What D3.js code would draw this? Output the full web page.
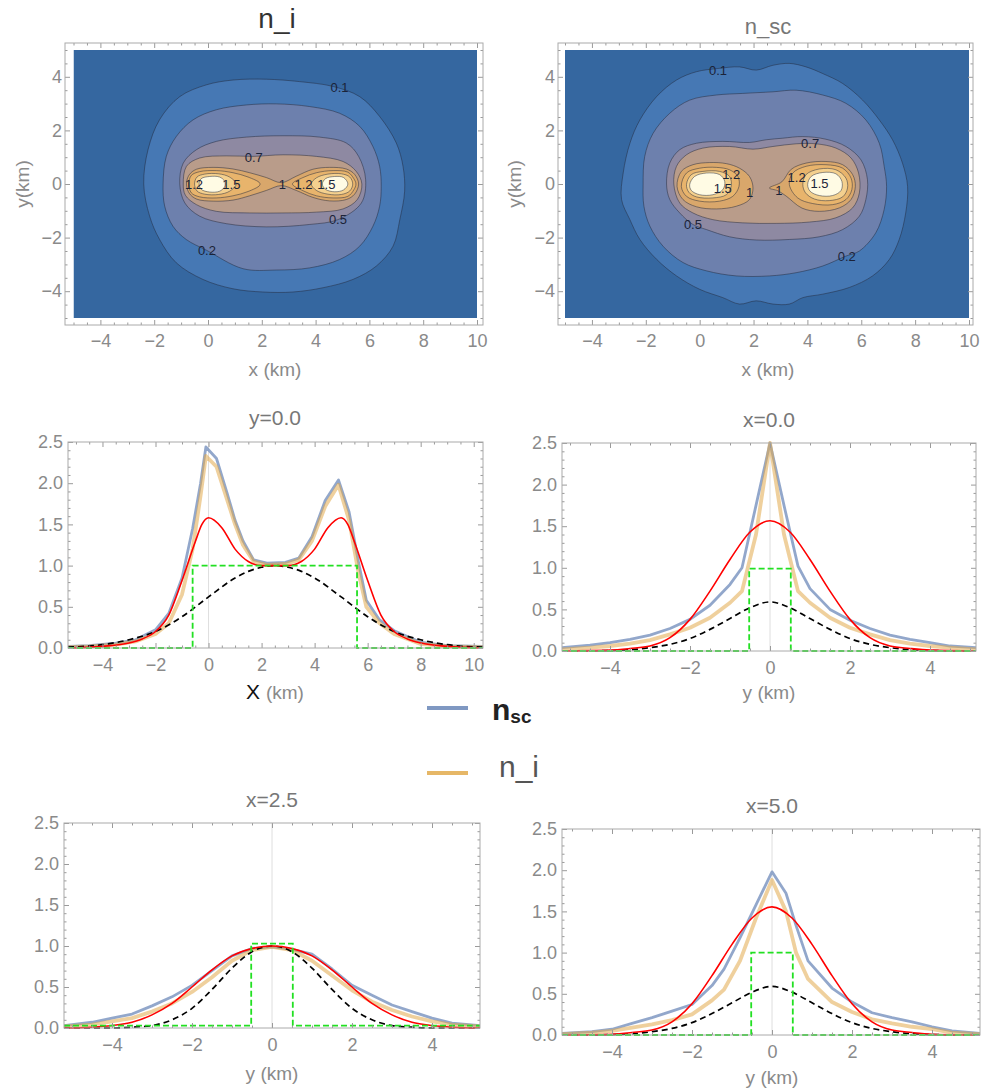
<!DOCTYPE html>
<html><head><meta charset="utf-8">
<script src="https://cdn.jsdelivr.net/npm/d3@7"></script>
<style>
body{margin:0;background:#fff}
svg{display:block}
text{font-family:"Liberation Sans",Arial,sans-serif}
</style>
</head><body>
<svg id="c" width="981" height="1092"></svg>
<script>
// ---------------- DATA ----------------
const contourLevels = [0.1, 0.2, 0.5, 0.7, 1.0, 1.2, 1.5, 2.0];

// n_i contour lines
const ni_l01 = [[-2.39,0],[-2.23,1.28],[-1.80,2.40],[-1.05,3.26],[-0.06,3.70],[0.93,3.88],[2.17,3.91],[3.41,3.82],[4.65,3.64],[5.64,3.26],[6.38,2.52],[7.0,1.53],[7.25,0.66],[7.31,-0.27],[7.13,-1.33],[6.88,-2.32],[6.26,-3.06],[5.39,-3.56],[4.28,-3.87],[3.16,-4.03],[2.04,-4.03],[0.93,-3.91],[-0.19,-3.56],[-1.18,-2.94],[-1.80,-2.07],[-2.17,-1.20]];
const ni_l02 = [[-1.67,0],[-1.55,1.03],[-1.18,1.77],[-0.56,2.39],[0.31,2.77],[1.43,2.95],[2.54,2.99],[3.78,2.89],[4.89,2.64],[5.64,2.15],[6.13,1.40],[6.38,0.66],[6.44,-0.09],[6.38,-0.83],[6.13,-1.58],[5.64,-2.32],[4.89,-2.82],[3.78,-3.13],[2.54,-3.21],[1.30,-3.16],[-0.06,-2.47],[-0.81,-2.07],[-1.30,-1.58],[-1.61,-0.83]];
const ni_l05 = [[-1.05,0],[-0.92,0.78],[-0.43,1.28],[0.31,1.59],[1.43,1.75],[2.79,1.80],[4.15,1.75],[5.14,1.53],[5.6,1.03],[5.86,0.16],[5.7,-0.71],[4.83,-1.33],[3.78,-1.51],[2.17,-1.60],[0.68,-1.48],[-0.31,-1.20],[-0.86,-0.71]];
const ni_l07 = [[-0.92,0],[-0.8,0.66],[-0.31,0.97],[0.68,1.05],[1.67,1.03],[2.79,1.09],[4.03,1.03],[5.02,0.84],[5.51,0.47],[5.72,0],[5.55,-0.58],[5.02,-0.93],[4.03,-1.05],[2.79,-1.08],[1.55,-1.08],[0.31,-1.02],[-0.43,-0.77],[-0.84,-0.42]];
const ni_l10 = [[2.73,0.05],[2.17,0.24],[1.55,0.42],[0.93,0.56],[0.19,0.62],[-0.43,0.55],[-0.7,0.34],[-0.8,0],[-0.7,-0.34],[-0.43,-0.56],[0.19,-0.64],[0.93,-0.6],[1.55,-0.44],[2.17,-0.24],[2.73,-0.06],[3.28,-0.24],[3.9,-0.5],[4.52,-0.63],[5.14,-0.58],[5.45,-0.38],[5.6,0],[5.45,0.36],[5.14,0.56],[4.52,0.62],[3.9,0.55],[3.28,0.29]];
const ni_l12a = [[-0.71,0],[-0.62,0.32],[-0.31,0.46],[0.31,0.5],[0.93,0.42],[1.49,0.26],[1.92,0.04],[1.92,-0.05],[1.49,-0.28],[0.93,-0.44],[0.31,-0.52],[-0.31,-0.48],[-0.62,-0.33]];
const ni_l12b = [[3.14,0],[3.53,0.24],[4.03,0.42],[4.65,0.5],[5.2,0.44],[5.42,0.2],[5.5,0],[5.42,-0.22],[5.2,-0.46],[4.65,-0.52],[4.03,-0.44],[3.53,-0.25]];
const ni_l15a = [[-0.5,0],[-0.41,0.26],[-0.12,0.37],[0.4,0.38],[0.8,0.26],[1.05,0],[0.8,-0.27],[0.4,-0.39],[-0.12,-0.38],[-0.41,-0.26]];
const ni_l15b = [[3.84,0],[4.03,0.23],[4.46,0.37],[4.96,0.38],[5.27,0.26],[5.38,0],[5.27,-0.26],[4.96,-0.39],[4.46,-0.38],[4.03,-0.24]];
const ni_l20a = [[-0.33,0],[-0.25,0.2],[0.06,0.28],[0.43,0.26],[0.62,0.1],[0.62,-0.1],[0.43,-0.27],[0.06,-0.3],[-0.25,-0.2]];
const ni_l20b = [[4.25,0],[4.37,0.2],[4.71,0.28],[5.04,0.24],[5.2,0],[5.04,-0.22],[4.71,-0.29],[4.37,-0.2]];
const ni_labels = [["0.1",4.89,3.61],["0.7",1.70,1.0],["1.2",-0.52,-0.03],["1.5",0.87,-0.03],["1",2.76,0],["1.2",3.55,-0.03],["1.5",4.4,-0.03],["0.5",4.83,-1.33],["0.2",-0.04,-2.47]];

// n_sc contour lines
const nsc_l01 = [[-2.90,-0.58],[-2.84,0.41],[-2.59,1.52],[-2.22,2.39],[-1.60,3.26],[-0.86,3.88],[-0.12,4.19],[0.68,4.31],[1.48,4.37],[2.10,4.25],[2.72,4.43],[3.33,4.50],[3.95,4.37],[4.57,4.12],[5.31,3.75],[6.05,3.13],[6.67,2.39],[7.16,1.65],[7.53,0.78],[7.72,-0.09],[7.65,-1.08],[7.41,-2.07],[7.04,-2.82],[6.42,-3.43],[5.56,-3.86],[4.57,-4.11],[3.83,-4.24],[3.33,-4.48],[2.72,-4.48],[2.10,-4.36],[1.48,-4.48],[0.86,-4.24],[0.0,-3.93],[-0.86,-3.43],[-1.60,-2.81],[-2.22,-2.07],[-2.59,-1.33]];
const nsc_l02 = [[-2.10,0],[-2.04,1.03],[-1.73,1.89],[-1.11,2.64],[-0.37,3.13],[0.62,3.32],[1.60,3.38],[2.72,3.44],[3.58,3.50],[4.57,3.32],[5.43,3.01],[6.17,2.39],[6.67,1.52],[6.85,0.66],[6.94,-0.09],[6.85,-0.95],[6.54,-1.82],[5.93,-2.50],[5.43,-2.69],[4.57,-3.06],[3.58,-3.31],[2.59,-3.43],[1.36,-3.43],[0.25,-3.24],[-0.62,-2.93],[-1.36,-2.32],[-1.85,-1.57],[-2.07,-0.83]];
const nsc_l05 = [[-1.23,0],[-1.11,0.78],[-0.74,1.28],[-0.12,1.52],[0.86,1.59],[1.85,1.55],[2.47,1.65],[3.09,1.71],[3.83,1.77],[4.69,1.67],[5.43,1.40],[5.99,0.90],[6.23,0.16],[6.17,-0.58],[5.93,-1.20],[5.31,-1.70],[4.44,-1.97],[3.33,-2.07],[2.10,-2.09],[1.11,-1.97],[0.25,-1.70],[-0.25,-1.51],[-0.74,-1.08],[-1.11,-0.58]];
const nsc_l07 = [[-0.96,0],[-0.86,0.66],[-0.49,1.09],[0.12,1.34],[1.11,1.40],[1.98,1.30],[2.72,1.40],[3.58,1.50],[4.32,1.50],[5.06,1.34],[5.62,0.97],[5.90,0.41],[5.93,-0.33],[5.68,-0.89],[5.06,-1.26],[4.07,-1.42],[2.84,-1.47],[1.60,-1.45],[0.49,-1.33],[-0.25,-1.08],[-0.74,-0.71]];
const nsc_l10a = [[-0.84,-0.09],[-0.68,0.47],[-0.25,0.72],[0.37,0.80],[0.99,0.76],[1.48,0.59],[1.85,0.28],[1.98,-0.15],[1.85,-0.58],[1.36,-0.83],[0.62,-0.93],[-0.12,-0.85],[-0.62,-0.58]];
const nsc_l10b = [[2.59,-0.15],[3.05,0.08],[3.4,0.55],[3.95,0.78],[4.69,0.84],[5.31,0.72],[5.68,0.35],[5.78,-0.09],[5.62,-0.58],[5.19,-0.89],[4.44,-1.02],[3.8,-0.9],[3.21,-0.45],[2.9,-0.25]];
const nsc_l12a = [[-0.68,-0.09],[-0.49,0.41],[0,0.59],[0.62,0.62],[1.11,0.53],[1.42,0.28],[1.46,-0.09],[1.23,-0.46],[0.74,-0.64],[0,-0.64],[-0.49,-0.46]];
const nsc_l12b = [[3.33,-0.02],[3.46,0.41],[3.95,0.66],[4.69,0.72],[5.31,0.59],[5.62,0.22],[5.65,-0.21],[5.43,-0.58],[4.94,-0.77],[4.20,-0.73],[3.64,-0.52]];
const nsc_l15a = [[-0.49,-0.02],[-0.31,0.35],[0.12,0.47],[0.74,0.47],[1.11,0.28],[1.17,-0.09],[0.99,-0.40],[0.49,-0.52],[-0.12,-0.48],[-0.40,-0.31]];
const nsc_l15b = [[3.83,-0.02],[3.95,0.35],[4.44,0.56],[5.06,0.53],[5.43,0.22],[5.49,-0.15],[5.31,-0.48],[4.81,-0.62],[4.26,-0.56],[3.93,-0.33]];
const nsc_l20a = [[-0.37,-0.02],[-0.19,0.28],[0.25,0.41],[0.74,0.35],[0.93,0.10],[0.86,-0.21],[0.49,-0.40],[0,-0.40],[-0.31,-0.24]];
const nsc_l20b = [[4.01,-0.02],[4.14,0.28],[4.57,0.43],[5.06,0.38],[5.28,0.10],[5.25,-0.24],[4.94,-0.43],[4.44,-0.43],[4.10,-0.27]];
const nsc_labels = [["0.1",0.68,4.25],["0.7",4.10,1.52],["1.2",1.17,0.35],["1.5",0.86,-0.15],["1",1.85,-0.33],["1",2.94,-0.24],["1.2",3.6,0.24],["1.5",4.45,0.02],["0.5",-0.25,-1.51],["0.2",5.46,-2.69]];

// Profile y = 0.0 (along x)
const py0_x   = [-5.3,-4.5,-3.5,-2.75,-2,-1.5,-1,-0.6,-0.3,-0.1,0.3,0.7,1.0,1.3,1.7,2.2,2.9,3.4,3.9,4.4,4.9,5.3,5.65,5.95,6.45,7,8,9,10.35];
const py0_nsc = [0.02,0.03,0.06,0.1,0.22,0.42,0.85,1.45,2.0,2.44,2.3,1.88,1.55,1.3,1.07,1.03,1.04,1.09,1.35,1.79,2.04,1.65,1.05,0.58,0.34,0.21,0.07,0.03,0.02];
const py0_ni  = [0.01,0.02,0.04,0.08,0.17,0.3,0.65,1.2,1.85,2.33,2.2,1.8,1.5,1.25,1.05,1.01,1.02,1.07,1.3,1.72,1.98,1.55,0.92,0.5,0.3,0.17,0.05,0.02,0.01];
const py0_rx  = [-5.3,-4,-3,-2.5,-2,-1.5,-1,-0.5,-0.25,0,0.5,1,1.5,2,2.5,3,3.5,4,4.5,5,5.25,5.5,6,6.5,7,7.5,8,9,10.35];
const py0_red = [0,0.02,0.06,0.11,0.2,0.4,0.82,1.29,1.5,1.58,1.46,1.2,1.05,1.0,1.0,1.0,1.05,1.2,1.46,1.58,1.5,1.29,0.82,0.4,0.2,0.11,0.06,0.02,0];
const py0_bx  = [-5.3,-4,-3,-2,-1,0,1,1.5,2,2.5,3,3.5,4,5,6,7,8,9,10.35];
const py0_blk = [0.01,0.04,0.1,0.2,0.38,0.62,0.85,0.93,0.98,1.0,0.98,0.93,0.85,0.62,0.38,0.2,0.1,0.04,0.01];
const py0_gx  = [-5.3,-0.6,-0.6,5.6,5.6,10.35];
const py0_grn = [0,0,1,1,0,0];

// Profile x = 0.0 (along y)
const px0_y   = [-5.2,-4.5,-4,-3.5,-3,-2.5,-2,-1.5,-1,-0.7,-0.35,0,0.35,0.7,1,1.5,2,2.5,3,3.5,4,4.5,5.15];
const px0_nsc = [0.04,0.07,0.1,0.14,0.19,0.27,0.38,0.55,0.8,1.0,1.75,2.5,1.75,1.02,0.75,0.5,0.37,0.27,0.19,0.14,0.1,0.06,0.04];
const px0_ni  = [0.02,0.04,0.06,0.09,0.13,0.2,0.28,0.4,0.58,0.72,1.4,2.5,1.4,0.72,0.58,0.4,0.28,0.2,0.13,0.09,0.06,0.04,0.02];
const px0_ry  = [-5.2,-4,-3.5,-3,-2.5,-2,-1.5,-1,-0.5,0,0.5,1,1.5,2,2.5,3,3.5,4,5.15];
const px0_red = [0,0.01,0.03,0.06,0.16,0.38,0.72,1.1,1.43,1.565,1.43,1.1,0.72,0.38,0.16,0.06,0.03,0.01,0];
const px0_blk = [0,0.005,0.015,0.04,0.08,0.15,0.26,0.39,0.52,0.59,0.52,0.39,0.26,0.15,0.08,0.04,0.015,0.005,0];
const px0_gy  = [-5.2,-0.52,-0.52,0.52,0.52,5.15];
const px0_grn = [0,0,0.99,0.99,0,0];

// Profile x = 2.5 (along y)
const px25_y   = [-5.2,-4.5,-4,-3.5,-3,-2.5,-2,-1.5,-1,-0.5,0,0.5,1,1.5,2,2.5,3,3.5,4,4.5,5.2];
const px25_nsc = [0.03,0.07,0.12,0.17,0.27,0.38,0.52,0.7,0.88,0.97,0.99,0.96,0.9,0.72,0.52,0.4,0.28,0.2,0.12,0.06,0.03];
const px25_ni  = [0.02,0.04,0.08,0.12,0.2,0.3,0.44,0.62,0.82,0.95,0.99,0.95,0.82,0.64,0.46,0.32,0.22,0.14,0.08,0.04,0.02];
const px25_red = [0,0.01,0.03,0.07,0.16,0.3,0.5,0.71,0.88,0.97,1.0,0.97,0.88,0.71,0.5,0.3,0.16,0.07,0.03,0.01,0];
const px25_blk = [0,0,0,0.01,0.03,0.1,0.24,0.47,0.73,0.93,1.0,0.93,0.73,0.47,0.24,0.1,0.03,0.01,0,0,0];
const px25_gy  = [-5.2,-0.52,-0.52,0.52,0.52,5.2];
const px25_grn = [0.03,0.03,1.03,1.03,0.03,0.03];

// Profile x = 5.0 (along y)
const px5_y   = [-5.25,-4.5,-4,-3.5,-3,-2.5,-2,-1.5,-1.2,-0.8,-0.4,0,0.35,0.6,0.9,1.5,2,2.5,3,3.5,4,4.5,5.2];
const px5_nsc = [0.02,0.04,0.07,0.14,0.21,0.29,0.37,0.6,0.8,1.18,1.58,1.98,1.72,1.33,0.9,0.57,0.4,0.27,0.21,0.16,0.1,0.05,0.02];
const px5_ni  = [0.01,0.03,0.05,0.09,0.13,0.18,0.25,0.42,0.55,0.9,1.42,1.88,1.5,1.0,0.68,0.4,0.28,0.19,0.14,0.1,0.07,0.03,0.01];
const px5_ry  = [-5.25,-4,-3.5,-3,-2.5,-2,-1.5,-1,-0.5,0,0.5,1,1.5,2,2.5,3,3.5,4,5.2];
const px5_red = [0,0.01,0.03,0.06,0.16,0.38,0.72,1.1,1.42,1.555,1.42,1.1,0.72,0.38,0.16,0.06,0.03,0.01,0];
const px5_blk = [0,0.005,0.015,0.04,0.08,0.15,0.26,0.39,0.52,0.59,0.52,0.39,0.26,0.15,0.08,0.04,0.015,0.005,0];
const px5_gy  = [-5.25,-0.52,-0.52,0.52,0.52,5.2];
const px5_grn = [0,0,1.0,1.0,0,0];

// Tick values
const cTicksX = [-4,-2,0,2,4,6,8,10];
const cTicksY = [-4,-2,0,2,4];
const lTicksY = [0,0.5,1.0,1.5,2.0,2.5];
const lTicksXwide = [-4,-2,0,2,4,6,8,10];
const lTicksXnarrow = [-4,-2,0,2,4];

// ---------------- STYLES ----------------
const bandColors = ['#3567a0','#4678b4','#6d80ad','#8e89a2','#b99c8a','#d9a76b','#e8b46c','#f4d08e','#fffbe4'];
const C = {
  tick:'#9a9a9a', tickText:'#8a8a8a', frame:'#aaaaaa',
  nsc:'#7f98c2', ni:'#e2aa4c', red:'#ff0000', blk:'#000', grn:'#22e022'
};
const svg = d3.select('#c');

function styleAxis(sel, size){
  sel.select('.domain').remove();
  sel.selectAll('line').attr('stroke', C.tick);
  sel.selectAll('text').attr('fill', C.tickText).style('font-size', (size||18)+'px')
     .style('font-family','"Liberation Sans",Arial,sans-serif');
}
function minorVals(lo, hi, step){
  const out=[]; for(let v=Math.ceil(lo/step)*step; v<=hi+1e-9; v+=step) out.push(+v.toFixed(4)); return out;
}
function addFrameTicks(g, x, y, F, xMaj, yMaj, xStep, yStep, fmtY, xPad, yPad){
  const xd=x.domain(), yd=y.domain();
  const xMin=minorVals(Math.min(...xd),Math.max(...xd),xStep).filter(v=>!xMaj.includes(v));
  const yMin=minorVals(Math.min(...yd),Math.max(...yd),yStep).filter(v=>!yMaj.some(m=>Math.abs(m-v)<1e-6));
  const add=(axis,tr)=>{const a=g.append('g').attr('transform',tr).call(axis); styleAxis(a); return a;};
  add(d3.axisBottom(x).tickValues(xMaj).tickSize(-5).tickPadding(xPad), `translate(0,${F.b})`);
  add(d3.axisBottom(x).tickValues(xMin).tickSize(-2.5).tickFormat(''), `translate(0,${F.b})`);
  add(d3.axisTop(x).tickValues(xMaj).tickSize(-5).tickFormat(''), `translate(0,${F.t})`);
  add(d3.axisTop(x).tickValues(xMin).tickSize(-2.5).tickFormat(''), `translate(0,${F.t})`);
  add(d3.axisLeft(y).tickValues(yMaj).tickSize(-5).tickPadding(yPad).tickFormat(fmtY), `translate(${F.l},0)`);
  add(d3.axisLeft(y).tickValues(yMin).tickSize(-2.5).tickFormat(''), `translate(${F.l},0)`);
  add(d3.axisRight(y).tickValues(yMaj).tickSize(-5).tickFormat(''), `translate(${F.r},0)`);
  add(d3.axisRight(y).tickValues(yMin).tickSize(-2.5).tickFormat(''), `translate(${F.r},0)`);
  g.append('rect').attr('x',F.l).attr('y',F.t).attr('width',F.r-F.l).attr('height',F.b-F.t)
    .attr('fill','none').attr('stroke',C.frame).attr('stroke-width',1);
}

// ---------------- CONTOUR PANELS ----------------
function contourPanel(P){
  const g = svg.append('g');
  const x = d3.scaleLinear([-5,10],[P.x0,P.x1]);
  const y = d3.scaleLinear([-5,5],[P.y0,P.y1]);
  const cid='cc'+P.id;
  svg.append('clipPath').attr('id',cid).append('rect')
    .attr('x',x(-5)).attr('y',y(5)).attr('width',x(10)-x(-5)).attr('height',y(-5)-y(5));
  const cg = g.append('g').attr('clip-path',`url(#${cid})`);
  cg.append('rect').attr('x',x(-5)).attr('y',y(5)).attr('width',x(10)-x(-5)).attr('height',y(-5)-y(5))
    .attr('fill',bandColors[0]);
  const line = d3.line().x(d=>x(d[0])).y(d=>y(d[1])).curve(d3.curveCatmullRomClosed.alpha(0.5));
  P.polys.forEach(([poly,band])=>{
    cg.append('path').attr('d',line(poly)).attr('fill',bandColors[band])
      .attr('stroke','rgba(35,40,60,0.55)').attr('stroke-width',0.9);
  });
  P.labels.forEach(([t,lx,ly])=>{
    cg.append('text').attr('x',x(lx)).attr('y',y(ly)).attr('dy','0.35em').attr('text-anchor','middle')
      .attr('fill','#1b2338').style('font-size','13px').text(t);
  });
  addFrameTicks(g,x,y,P.F,cTicksX,cTicksY,0.5,0.5,d3.format('d'),9,3);
  g.append('text').attr('x',P.xlab[0]).attr('y',P.xlab[1]).attr('text-anchor','middle')
    .attr('fill','#8a8a8a').style('font-size','19px').text('x (km)');
  g.append('text').attr('transform',`translate(${P.ylab[0]},${P.ylab[1]}) rotate(-90)`).attr('text-anchor','middle')
    .attr('dy','0.35em').attr('fill','#8a8a8a').style('font-size','19px').text('y(km)');
  g.append('text').attr('x',P.title[0]).attr('y',P.title[1]).attr('text-anchor','middle')
    .attr('fill',P.title[3]).style('font-size',P.title[4]+'px').text(P.title[2]);
}

contourPanel({id:1,x0:73.5,x1:477,y0:318,y1:50,F:{l:65,r:483,t:43,b:325},
  polys:[[ni_l01,1],[ni_l02,2],[ni_l05,3],[ni_l07,4],[ni_l10,5],[ni_l12a,6],[ni_l12b,6],[ni_l15a,7],[ni_l15b,7],[ni_l20a,8],[ni_l20b,8]],
  labels:ni_labels, xlab:[275,376], ylab:[22,184], title:[277,28,'n_i','#333',28]});
contourPanel({id:2,x0:565,x1:969,y0:318,y1:50,F:{l:558,r:973,t:43,b:325},
  polys:[[nsc_l01,1],[nsc_l02,2],[nsc_l05,3],[nsc_l07,4],[nsc_l10a,5],[nsc_l10b,5],[nsc_l12a,6],[nsc_l12b,6],[nsc_l15a,7],[nsc_l15b,7],[nsc_l20a,8],[nsc_l20b,8]],
  labels:nsc_labels, xlab:[768,376], ylab:[514,184], title:[768,34,'n_sc','#777',22]});

// ---------------- PROFILE PANELS ----------------
function profilePanel(P){
  const g = svg.append('g');
  const x = d3.scaleLinear(P.xd,[P.F.l,P.F.r]);
  const y = d3.scaleLinear([0,2.5],[P.F.b,P.F.t]);
  const cid='cp'+P.id;
  svg.append('clipPath').attr('id',cid).append('rect')
    .attr('x',P.F.l).attr('y',P.F.t-4).attr('width',P.F.r-P.F.l).attr('height',P.F.b-P.F.t+6);
  g.append('line').attr('x1',x(0)).attr('x2',x(0)).attr('y1',P.F.t).attr('y2',P.F.b)
    .attr('stroke','#dedede').attr('stroke-width',1);
  const lg = g.append('g').attr('clip-path',`url(#${cid})`);
  const lin = d3.line().x(d=>x(d[0])).y(d=>y(d[1]));
  const smo = d3.line().x(d=>x(d[0])).y(d=>y(d[1])).curve(d3.curveMonotoneX);
  lg.append('path').attr('d',lin(d3.zip(P.sx,P.nsc))).attr('fill','none')
    .attr('stroke',C.nsc).attr('stroke-opacity',0.85).attr('stroke-width',2.8).attr('stroke-linejoin','round');
  lg.append('path').attr('d',lin(d3.zip(P.sx,P.ni))).attr('fill','none')
    .attr('stroke',C.ni).attr('stroke-opacity',0.55).attr('stroke-width',3.8).attr('stroke-linejoin','round');
  lg.append('path').attr('d',smo(d3.zip(P.bx,P.blk))).attr('fill','none')
    .attr('stroke',C.blk).attr('stroke-width',1.7).attr('stroke-dasharray','6,4');
  lg.append('path').attr('d',smo(d3.zip(P.rx,P.red))).attr('fill','none')
    .attr('stroke',C.red).attr('stroke-width',1.6);
  lg.append('path').attr('d',lin(d3.zip(P.gx,P.grn))).attr('fill','none')
    .attr('stroke',C.grn).attr('stroke-width',1.8).attr('stroke-dasharray','6,3');
  addFrameTicks(g,x,y,P.F,P.xt,lTicksY,0.5,0.1,d3.format('.1f'),10,5);
  g.append('text').attr('x',P.title[0]).attr('y',P.title[1]).attr('text-anchor','middle')
    .attr('fill','#777').style('font-size','21px').text(P.title[2]);
  const xl = g.append('text').attr('x',P.xlab[0]).attr('y',P.xlab[1]).attr('text-anchor','middle')
    .style('font-size','19px');
  if(P.xlab[2]==='X'){
    xl.append('tspan').attr('fill','#111').style('font-size','21px').text('X ');
    xl.append('tspan').attr('fill','#8a8a8a').text('(km)');
  } else {
    xl.attr('fill','#8a8a8a').text(P.xlab[2]);
  }
}

profilePanel({id:1,xd:[-5.3,10.35],F:{l:68,r:483,t:442,b:648},xt:lTicksXwide,
  sx:py0_x,nsc:py0_nsc,ni:py0_ni,rx:py0_rx,red:py0_red,bx:py0_bx,blk:py0_blk,gx:py0_gx,grn:py0_grn,
  title:[275,425,'y=0.0'],xlab:[275,699,'X']});
profilePanel({id:2,xd:[-5.2,5.15],F:{l:562,r:976,t:443,b:651},xt:lTicksXnarrow,
  sx:px0_y,nsc:px0_nsc,ni:px0_ni,rx:px0_ry,red:px0_red,bx:px0_ry,blk:px0_blk,gx:px0_gy,grn:px0_grn,
  title:[769,427,'x=0.0'],xlab:[769,699,'y (km)']});
profilePanel({id:3,xd:[-5.2,5.2],F:{l:64,r:480,t:823,b:1028},xt:lTicksXnarrow,
  sx:px25_y,nsc:px25_nsc,ni:px25_ni,rx:px25_y,red:px25_red,bx:px25_y,blk:px25_blk,gx:px25_gy,grn:px25_grn,
  title:[272,807,'x=2.5'],xlab:[272,1080,'y (km)']});
profilePanel({id:4,xd:[-5.25,5.2],F:{l:562,r:980,t:829,b:1035},xt:lTicksXnarrow,
  sx:px5_y,nsc:px5_nsc,ni:px5_ni,rx:px5_ry,red:px5_red,bx:px5_ry,blk:px5_blk,gx:px5_gy,grn:px5_grn,
  title:[772,813,'x=5.0'],xlab:[772,1084,'y (km)']});

// ---------------- LEGEND ----------------
const lgd = svg.append('g');
lgd.append('line').attr('x1',427).attr('x2',468).attr('y1',708).attr('y2',708)
  .attr('stroke',C.nsc).attr('stroke-width',4);
lgd.append('line').attr('x1',427).attr('x2',468).attr('y1',773).attr('y2',773)
  .attr('stroke',C.ni).attr('stroke-opacity',0.85).attr('stroke-width',4);
const t1 = lgd.append('text').attr('x',492).attr('y',720).attr('fill','#222').style('font-weight','bold');
t1.append('tspan').style('font-size','30px').text('n');
t1.append('tspan').style('font-size','19px').attr('dy',3).text('sc');
lgd.append('text').attr('x',499).attr('y',777).attr('fill','#555').style('font-size','30px').text('n_i');
</script>
</body></html>
